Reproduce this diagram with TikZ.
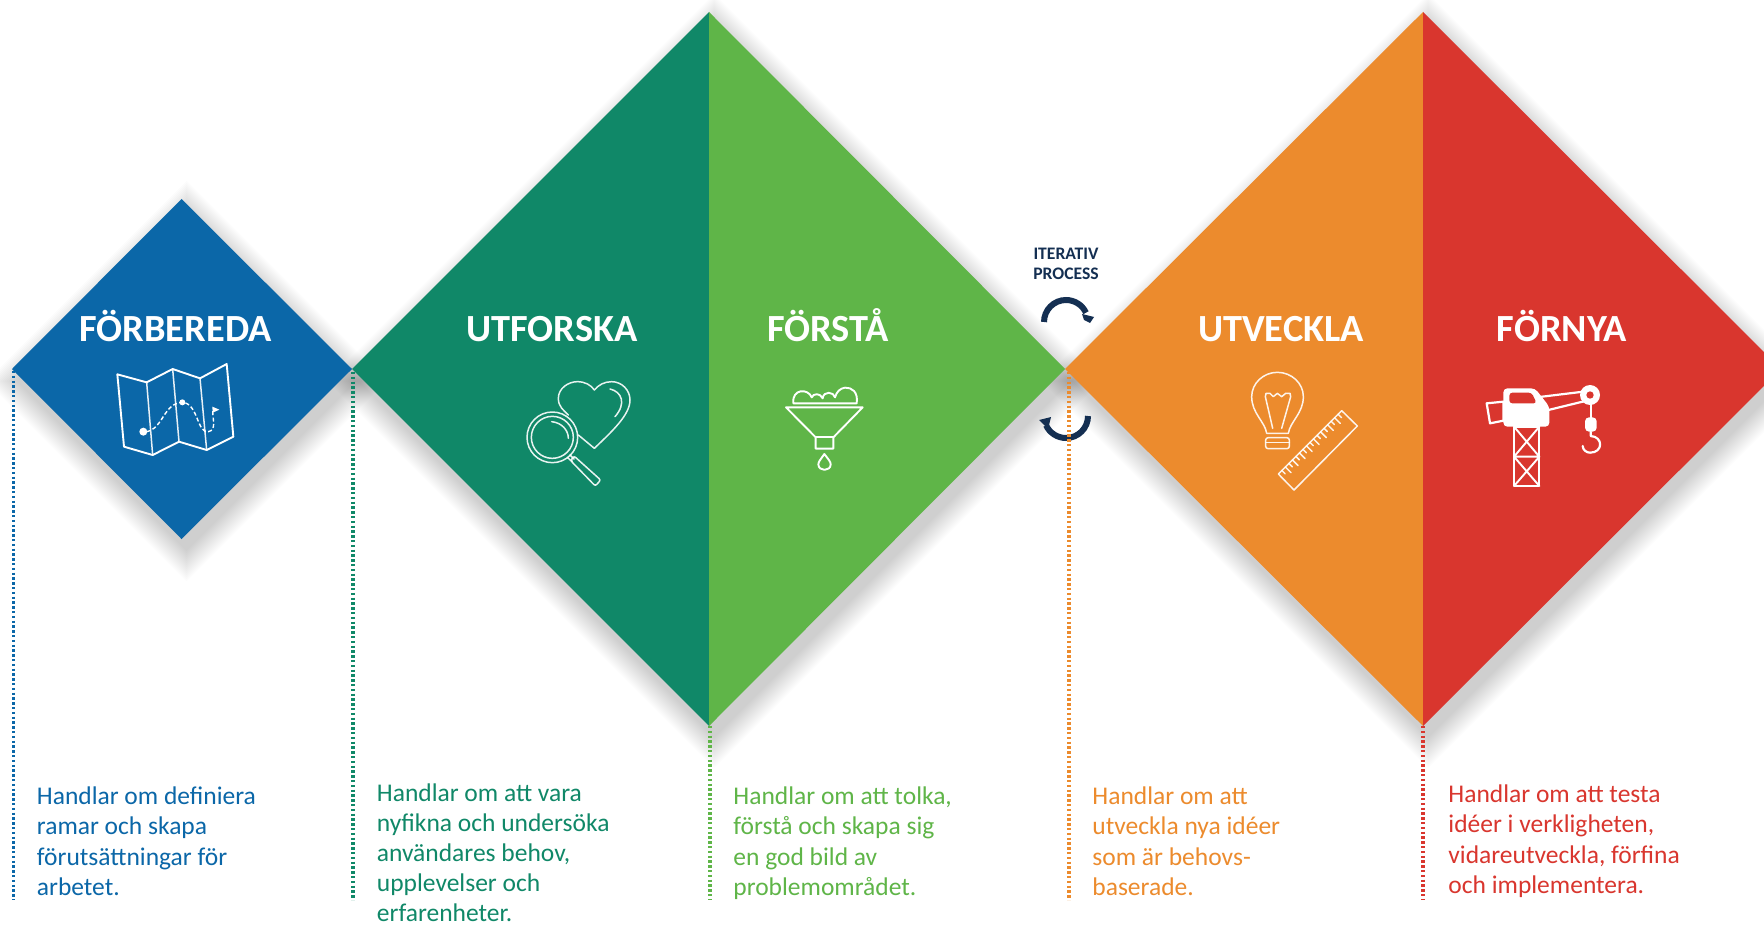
\documentclass[tikz,border=0pt]{standalone}
\usepackage{fontspec}
\setmainfont{Carlito}
\definecolor{cblue}{HTML}{0B67A8}
\definecolor{cdgreen}{HTML}{108868}
\definecolor{cgreen}{HTML}{5FB548}
\definecolor{corange}{HTML}{EC8B2D}
\definecolor{cred}{HTML}{D9362E}
\definecolor{cnavy}{HTML}{142F52}
\newcommand{\softshadow}[3]{%
  \foreach \r in {30,28,...,0}{
    \fill[black,opacity=0.0135] (#1+5,#2+12-#3-\r) -- (#1+5+#3+\r,#2+12) -- (#1+5,#2+12+#3+\r) -- (#1+5-#3-\r,#2+12) -- cycle;
  }}
\tikzset{
  head/.style={text=white,font=\fontsize{19.2}{22}\selectfont\bfseries,anchor=base,inner sep=0pt},
  body/.style={anchor=north west,inner sep=0pt,align=left,font=\fontsize{12.75}{15.25}\selectfont},
  dots/.style={line width=1.8pt,dash pattern=on 1.15pt off 1.25pt},
  icon/.style={draw=white,line width=0.95pt,line join=round,line cap=round},
  thinicon/.style={draw=white,line width=0.75pt,line join=round,line cap=round,opacity=0.9},
  iter/.style={draw=cnavy,line width=3pt},
  zoomgrid/.style={x=0.16667pt,y=-0.16667pt}
}
\begin{document}
\begin{tikzpicture}[x=0.5pt,y=-0.5pt]
\useasboundingbox (0,0) rectangle (1764,925);
\clip (0,0) rectangle (1764,925);
\fill[white] (0,0) rectangle (1764,925);
% shadows
\softshadow{181.5}{369}{170}
\softshadow{709}{369}{357}
\softshadow{1423}{369}{357}
% diamonds
\fill[cblue] (181.5,199) -- (352,369) -- (181.5,539) -- (12,369) -- cycle;
\fill[cdgreen] (709,12) -- (709,726) -- (352,369) -- cycle;
\fill[cgreen] (709,12) -- (1065,369) -- (709,726) -- cycle;
\fill[corange] (1423,12) -- (1423,726) -- (1065,369) -- cycle;
\fill[cred] (1423,12) -- (1781,369) -- (1423,726) -- cycle;
% iteration arrows
\draw[iter] (1044,322) arc[start angle=180,end angle=335,radius=22];
\fill[cnavy] (1082,314) -- (1094,317) -- (1090,323) -- (1084,320) -- cycle;
\draw[iter] (1088,416) arc[start angle=0,end angle=155,radius=22];
\fill[cnavy] (1039,420) -- (1051,417) -- (1048,429) -- cycle;
% dotted lines
\coordinate (a1) at (13.5,371); \coordinate (a2) at (13.5,900);
\coordinate (b1) at (353,372);  \coordinate (b2) at (353,900);
\coordinate (c1) at (710,726);  \coordinate (c2) at (710,900);
\coordinate (d1) at (1069,372); \coordinate (d2) at (1069,900);
\coordinate (e1) at (1423,726); \coordinate (e2) at (1423,900);
\draw[dots,cblue] (a1) -- (a2);
\draw[dots,cdgreen] (b1) -- (b2);
\draw[dots,cgreen] (c1) -- (c2);
\draw[dots,corange] (d1) -- (d2);
\draw[dots,cred] (e1) -- (e2);
% headings
\node[head] (h1) at (175.5,341) {FÖRBEREDA};
\node[head] (h2) at (552,341) {UTFORSKA};
\node[head] (h3) at (828,341) {FÖRSTÅ};
\node[head] (h4) at (1281,341) {UTVECKLA};
\node[head] (h5) at (1562,341) {FÖRNYA};
\node[anchor=base,inner sep=0pt,align=center,text=cnavy,font=\fontsize{8.8}{10}\selectfont\bfseries] (it) at (1066,279) {ITERATIV\\PROCESS};
% body texts
\node[body,text=cblue] (t1) at (36.5,786) {Handlar om definiera\\ramar och skapa\\förutsättningar för\\arbetet.};
\node[body,text=cdgreen,font=\fontsize{12.75}{15}\selectfont] (t2) at (376.5,783) {Handlar om att vara\\nyfikna och undersöka\\användares behov,\\upplevelser och\\erfarenheter.};
\node[body,text=cgreen] (t3) at (733,786) {Handlar om att tolka,\\förstå och skapa sig\\en god bild av\\problemområdet.};
\node[body,text=corange] (t4) at (1092,786) {Handlar om att\\utveckla nya idéer\\som är behovs-\\baserade.};
\node[body,text=cred] (t5) at (1448,784) {Handlar om att testa\\idéer i verkligheten,\\vidareutveckla, förfina\\och implementera.};
% map icon
\begin{scope}[shift={(0,180)},zoomgrid]
\draw[icon] (352,583) -- (440,607) -- (518,567) -- (600,595) -- (680,552) -- (700,770) -- (620,810) -- (537,785) -- (458,825) -- (372,800) -- cycle;
\draw[thinicon] (440,607) -- (458,825) (518,567) -- (537,785) (600,595) -- (620,810);
\fill[white] (430,755) circle[radius=12] (547,667) circle[radius=9];
\draw[white,line width=0.7pt,dash pattern=on 2pt off 1.2pt] (440,755) .. controls (490,745) and (490,670) .. (547,667) .. controls (595,670) and (590,760) .. (625,755) .. controls (650,750) and (638,720) .. (638,690);
\fill[white] (637,680) -- (658,689) -- (638,698) -- cycle;
\end{scope}
% magnifier and heart
\begin{scope}[shift={(490,360)},zoomgrid]
\draw[thinicon] (235,165) .. controls (220,150) and (205,140) .. (205,115) .. controls (205,85) and (235,65) .. (262,65) .. controls (285,65) and (303,75) .. (313,90) .. controls (325,75) and (343,65) .. (365,65) .. controls (395,65) and (420,90) .. (420,120) .. controls (420,165) and (365,215) .. (313,265) -- (265,225);
\draw[thinicon] (360,87) .. controls (395,95) and (410,130) .. (375,170);
\draw[thinicon] (187,232) circle[radius=76];
\draw[thinicon] (187,232) circle[radius=63];
\draw[thinicon] (185,185) .. controls (215,188) and (235,210) .. (235,235);
\draw[thinicon] (240,285) -- (252,297) (245,304) -- (232,292);
\draw[thinicon,rounded corners=1pt] (252,288) -- (332,360) -- (316,378) -- (242,302) -- cycle;
\end{scope}
% funnel
\begin{scope}[shift={(490,360)},zoomgrid]
\draw[icon] (888,142) -- (1118,142) -- (1030,232) -- (1030,266) -- (977,266) -- (977,232) -- cycle;
\draw[icon] (977,232) -- (1030,232);
\draw[icon] (910,130) -- (1100,130) .. controls (1105,95) and (1085,82) .. (1065,83) .. controls (1050,85) and (1040,95) .. (1035,112) .. controls (1032,95) and (1000,92) .. (998,115) .. controls (990,98) and (970,100) .. (965,112) .. controls (955,85) and (905,85) .. (910,130);
\draw[icon] (1003,282) .. controls (1015,298) and (1022,305) .. (1022,313) .. controls (1022,335) and (985,335) .. (985,313) .. controls (985,305) and (992,298) .. (1003,282) -- cycle;
\end{scope}
% bulb and ruler
\begin{scope}[shift={(1220,360)},zoomgrid]
\draw[thinicon] (140,220) .. controls (135,185) and (95,160) .. (95,110) .. controls (95,70) and (130,37) .. (172,37) .. controls (215,37) and (250,70) .. (250,110) .. controls (250,160) and (210,185) .. (205,220) -- cycle;
\draw[thinicon,rounded corners=1.2pt] (137,233) rectangle (208,266);
\draw[thinicon] (138,248) -- (208,248);
\draw[thinicon] (158,205) -- (136,110) -- (138,100) -- (150,100) -- (160,110) -- (172,100) -- (185,110) -- (197,100) -- (210,100) -- (212,110) -- (185,205);
\draw[thinicon] (175,342) -- (365,152) -- (412,198) -- (222,390) -- cycle;
\foreach \i in {1,...,17}{
  \pgfmathsetmacro{\tx}{175+\i*10.55}
  \pgfmathsetmacro{\ty}{342-\i*10.55}
  \pgfmathsetmacro{\tl}{ifthenelse(mod(\i,2)==0,17,10)}
  \draw[thinicon] (\tx,\ty) -- ++(\tl,\tl);
}
\end{scope}
% crane
\begin{scope}[shift={(1220,360)},zoomgrid]
\draw[icon,line width=1.1pt] (882,200) rectangle (958,378);
\draw[icon] (882,290) -- (958,290) (882,200) -- (958,290) (958,200) -- (882,290) (882,290) -- (958,378) (958,290) -- (882,378);
\fill[white,rounded corners=2pt] (850,85) -- (945,85) -- (988,140) -- (988,200) -- (850,200) -- cycle;
\fill[cred,rounded corners=1.5pt] (868,98) -- (935,98) -- (950,130) -- (868,130) -- cycle;
\draw[icon,line width=1.1pt,fill=cred] (850,125) -- (800,130) -- (810,190) -- (850,182) -- cycle;
\draw[icon,line width=1.1pt] (950,112) -- (1090,95) (985,150) -- (1100,122);
\fill[white] (1110,105) circle[radius=30];
\fill[cred] (1110,105) circle[radius=11];
\draw[icon,line width=1.1pt] (1112,130) -- (1112,175);
\fill[white,rounded corners=2pt] (1095,172) rectangle (1130,215);
\draw[icon,line width=1.1pt] (1112,215) -- (1112,228) .. controls (1150,230) and (1150,278) .. (1110,278) .. controls (1100,278) and (1088,270) .. (1088,258);
\end{scope}
\end{tikzpicture}
\end{document}
